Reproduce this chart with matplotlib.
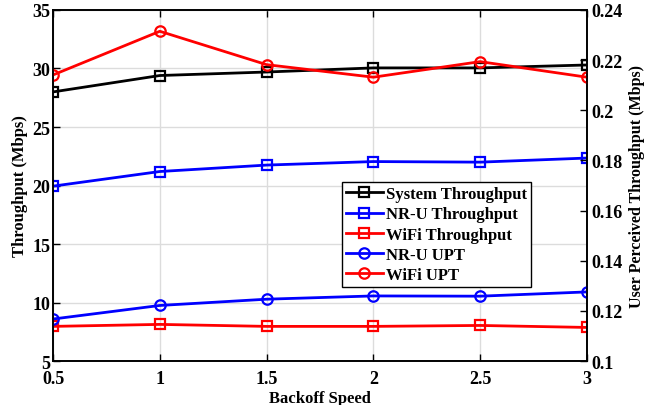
import matplotlib
matplotlib.use("Agg")
import matplotlib.pyplot as plt
from matplotlib.ticker import FuncFormatter

backoff_speed = [0.5, 1, 1.5, 2, 2.5, 3]

# left axis: throughput (Mbps)
system_tp = [28.0, 29.4, 29.7, 30.05, 30.05, 30.3]
nru_tp = [19.95, 21.2, 21.75, 22.05, 22.0, 22.35]
wifi_tp = [7.97, 8.14, 7.97, 7.97, 8.05, 7.88]

# right axis: user perceived throughput (Mbps)
nru_upt = [0.1168, 0.1222, 0.1247, 0.1260, 0.1259, 0.1276]
wifi_upt = [0.2141, 0.2315, 0.2182, 0.2132, 0.2194, 0.2132]

plt.rcParams["font.family"] = ["Liberation Serif", "DejaVu Serif"]
plt.rcParams["font.weight"] = "bold"
plt.rcParams["axes.labelweight"] = "bold"

fig = plt.figure(figsize=(6.55, 4.06), dpi=100)
ax = fig.add_axes([0.081, 0.108, 0.815, 0.865])
ax2 = ax.twinx()

style = dict(linewidth=2, markersize=7.5, markerfacecolor="none", markeredgewidth=1.6)
h1, = ax.plot(backoff_speed, system_tp, "-s", color="black", label="System Throughput", **style)
h2, = ax.plot(backoff_speed, nru_tp, "-s", color="blue", label="NR-U Throughput", **style)
h3, = ax.plot(backoff_speed, wifi_tp, "-s", color="red", label="WiFi Throughput", **style)
h4, = ax2.plot(backoff_speed, nru_upt, "-o", color="blue", label="NR-U UPT", **style)
h5, = ax2.plot(backoff_speed, wifi_upt, "-o", color="red", label="WiFi UPT", **style)

ax.set_xlim(0.5, 3)
ax.set_ylim(5, 35)
ax.set_xticks(backoff_speed)
ax.set_xticklabels(["0.5", "1", "1.5", "2", "2.5", "3"])
ax.set_yticks(range(5, 36, 5))
ax2.set_ylim(0.1, 0.24)
ax2.set_yticks([0.1, 0.12, 0.14, 0.16, 0.18, 0.2, 0.22, 0.24])
ax2.yaxis.set_major_formatter(FuncFormatter(lambda v, p: f"{v:g}"))

ax.grid(True, color="#dcdcdc", linewidth=1)
ax.set_axisbelow(True)
ax.tick_params(axis="both", direction="in", labelsize=13, top=True, length=5, width=1)
ax.tick_params(axis="x", pad=6.5)
ax.tick_params(axis="y", pad=2)
ax2.tick_params(axis="y", direction="in", labelsize=13, length=5, width=1, pad=3)
for a in (ax, ax2):
    for s in a.spines.values():
        s.set_linewidth(1.2)

ax.set_xlabel("Backoff Speed", fontsize=12, labelpad=2)
ax.set_ylabel("Throughput (Mbps)", fontsize=12, labelpad=3)
ax2.set_ylabel("User Perceived Throughput (Mbps)", fontsize=11.5, labelpad=5)

leg = ax2.legend(handles=[h1, h2, h3, h4, h5], loc="upper left",
                 bbox_to_anchor=(0.541, 0.51), fontsize=12, frameon=True,
                 fancybox=False, edgecolor="black", borderpad=0.25,
                 labelspacing=0.25, handlelength=2.2, handletextpad=0.2,
                 borderaxespad=0)
leg.get_frame().set_linewidth(1)
leg.get_frame().set_alpha(1)

fig.savefig("out.png", dpi=100)
